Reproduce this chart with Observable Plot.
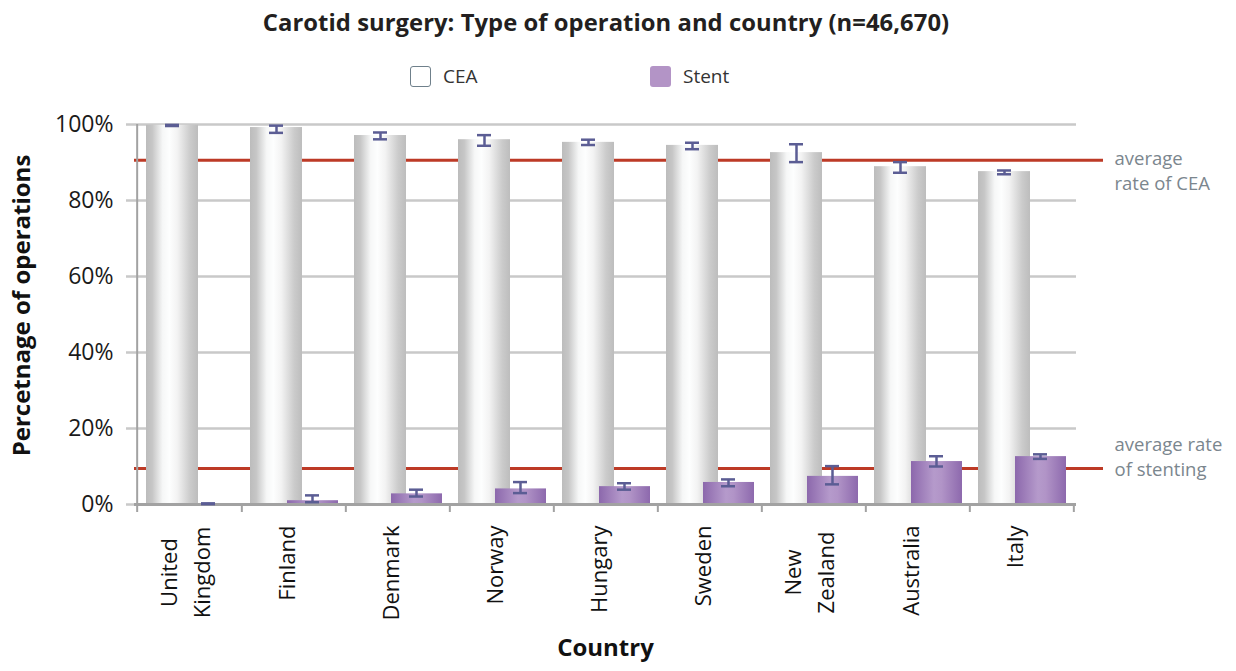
<!DOCTYPE html>
<html>
<head>
<meta charset="utf-8">
<script src="https://cdn.jsdelivr.net/npm/d3@7"></script>
<script src="https://cdn.jsdelivr.net/npm/@observablehq/plot@0.6"></script>
<style>
  body { margin: 0; background: #fff; font-family: "Open Sans", sans-serif; }
  #wrap { width: 1236px; position: relative; }
  #title { width: 1212px; height: 44px; line-height: 44px; text-align: center; font-weight: 700; font-size: 23.8px; color: #231f20; letter-spacing: 0.05px; }
  #legend { position: relative; height: 62px; }
  .item { position: absolute; top: 19px; display: flex; align-items: center; font-size: 19px; color: #333; }
  .sw { width: 21px; height: 21px; border-radius: 3px; margin-right: 12px; box-sizing: border-box; }
  #chart svg { display: block; }
</style>
</head>
<body>
<div id="wrap">
  <div id="title">Carotid surgery: Type of operation and country (n=46,670)</div>
  <div id="legend">
    <div class="item" style="left:410px"><div class="sw" style="background:#fff;border:1.5px solid #6f808b"></div>CEA</div>
    <div class="item" style="left:650px"><div class="sw" style="background:#b394c6"></div>Stent</div>
  </div>
  <div id="chart"></div>
</div>
<script>
const countries = ["United Kingdom", "Finland", "Denmark", "Norway", "Hungary", "Sweden", "New Zealand", "Australia", "Italy"];
const countryLabels = ["United\nKingdom", "Finland", "Denmark", "Norway", "Hungary", "Sweden", "New\nZealand", "Australia", "Italy"];
const ceaValues = [99.8, 99.2, 97.1, 96.0, 95.3, 94.5, 92.6, 88.9, 87.6];
const ceaLow    = [99.6, 97.8, 96.1, 94.4, 94.6, 93.5, 90.1, 87.3, 86.9];
const ceaHigh   = [99.9, 99.7, 97.9, 97.2, 96.0, 95.2, 94.8, 90.1, 87.9];
const stentValues = [0.2, 1.0, 2.8, 4.1, 4.7, 5.8, 7.4, 11.3, 12.6];
const stentLow    = [0.1, 0.6, 2.1, 3.0, 3.9, 4.8, 5.3, 10.0, 12.0];
const stentHigh   = [0.3, 2.4, 3.9, 5.9, 5.6, 6.6, 10.1, 12.7, 13.2];
const avgCEA = 90.6;
const avgStent = 9.5;
const yTicks = [0, 20, 40, 60, 80, 100];
const annotCEA = "average\nrate of CEA";
const annotStent = "average rate\nof stenting";

const rows = countries.map((c, i) => ({
  country: c, label: countryLabels[i],
  cea: ceaValues[i], ceaLow: ceaLow[i], ceaHigh: ceaHigh[i],
  stent: stentValues[i], stentLow: stentLow[i], stentHigh: stentHigh[i]
}));
const single = rows.filter(d => !d.label.includes("\n"));
const multi = rows.filter(d => d.label.includes("\n"));

const W = 1236, H = 565, ML = 134, MR = 160, MT = 18, MB = 167;
const bw = (W - ML - MR) / countries.length;
const errColor = "#5b5d94";
const grid = "#c9c9c9", axisCol = "#a2a2a2", red = "#bd3a26";

const plot = Plot.plot({
  width: W, height: H,
  marginLeft: ML, marginRight: MR, marginTop: MT, marginBottom: MB,
  style: { fontFamily: "Open Sans, sans-serif", fontSize: "23px", color: "#1a1a1a", background: "white", overflow: "visible" },
  x: { type: "band", domain: countries, padding: 0, axis: null },
  y: { domain: [0, 100], ticks: yTicks, tickFormat: d => d + "%", tickSize: 0, tickPadding: 21, label: null },
  marks: [
    Plot.ruleY(yTicks, { y: d => d, stroke: grid, strokeWidth: 2.5, insetLeft: -8, insetRight: 0 }),
    Plot.ruleY([avgCEA, avgStent], { y: d => d, stroke: red, strokeWidth: 3, insetRight: -27 }),
    Plot.ruleX([countries[0]], { x: d => d, dx: -bw / 2, y1: 0, y2: 100, insetTop: 8, stroke: axisCol, strokeWidth: 2 }),
    Plot.ruleX(countries, { x: d => d, dx: bw / 2, y1: 0, y2: 0, insetTop: 8, stroke: axisCol, strokeWidth: 2 }),
    Plot.barY(rows, { x: "country", y: "cea", fill: "url(#ceaGrad)", insetLeft: 9, insetRight: 43 }),
    Plot.barY(rows, { x: "country", y: "stent", fill: "url(#stentGrad)", insetLeft: 46, insetRight: 7 }),
    Plot.ruleY([0], { y: d => d, stroke: axisCol, strokeWidth: 3, insetRight: 0 }),
    Plot.ruleX(rows, { x: "country", y1: "ceaLow", y2: "ceaHigh", dx: -17, stroke: errColor, strokeWidth: 2.5 }),
    Plot.tickY(rows, { x: "country", y: "ceaLow", insetLeft: 28, insetRight: 62, stroke: errColor, strokeWidth: 2.5 }),
    Plot.tickY(rows, { x: "country", y: "ceaHigh", insetLeft: 28, insetRight: 62, stroke: errColor, strokeWidth: 2.5 }),
    Plot.ruleX(rows, { x: "country", y1: "stentLow", y2: "stentHigh", dx: 19, stroke: errColor, strokeWidth: 2.5 }),
    Plot.tickY(rows, { x: "country", y: "stentLow", insetLeft: 64, insetRight: 26, stroke: errColor, strokeWidth: 2.5 }),
    Plot.tickY(rows, { x: "country", y: "stentHigh", insetLeft: 64, insetRight: 26, stroke: errColor, strokeWidth: 2.5 }),
    Plot.text(single, { x: "country", text: "label", frameAnchor: "bottom", rotate: -90, textAnchor: "end", lineAnchor: "middle", dy: 21, dx: -6, fontSize: 22, fill: "#111" }),
    Plot.text(multi, { x: "country", text: "label", frameAnchor: "bottom", rotate: -90, textAnchor: "middle", lineAnchor: "middle", lineHeight: 1.5, dy: 68, dx: -7, fontSize: 22, fill: "#111" }),
    Plot.text([avgCEA], { y: d => d, text: () => annotCEA, frameAnchor: "right", dx: 38, dy: 9, textAnchor: "start", lineAnchor: "middle", lineHeight: 1.35, fontSize: 18.5, fill: "#7b868e" }),
    Plot.text([avgStent], { y: d => d, text: () => annotStent, frameAnchor: "right", dx: 38, dy: -13, textAnchor: "start", lineAnchor: "middle", lineHeight: 1.35, fontSize: 18.5, fill: "#7b868e" }),
    Plot.text(["Percetnage of operations"], { text: d => d, frameAnchor: "left", rotate: -90, textAnchor: "middle", dx: -112, dy: -9, fontSize: 24, fontWeight: "bold", fill: "#111" }),
    Plot.text(["Country"], { text: d => d, frameAnchor: "bottom", textAnchor: "middle", dy: 151, fontSize: 24, fontWeight: "bold", fill: "#111" })
  ]
});

const defs = d3.select(plot).insert("defs", ":first-child");
const g1 = defs.append("linearGradient").attr("id", "ceaGrad").attr("x1", "0").attr("x2", "1").attr("y1", "0").attr("y2", "0");
[[0, "#bcbcbc"], [0.12, "#c6c6c6"], [0.32, "#f6f7f7"], [0.45, "#fdfefe"], [0.6, "#f3f3f3"], [0.85, "#cbcbcb"], [1, "#bdbdbd"]]
  .forEach(([o, c]) => g1.append("stop").attr("offset", o).attr("stop-color", c));
const g2 = defs.append("linearGradient").attr("id", "stentGrad").attr("x1", "0").attr("x2", "1").attr("y1", "0").attr("y2", "0");
[[0, "#8c68ac"], [0.45, "#b59acb"], [0.6, "#b194c7"], [1, "#8d69ad"]]
  .forEach(([o, c]) => g2.append("stop").attr("offset", o).attr("stop-color", c));

document.getElementById("chart").appendChild(plot);
</script>
</body>
</html>
